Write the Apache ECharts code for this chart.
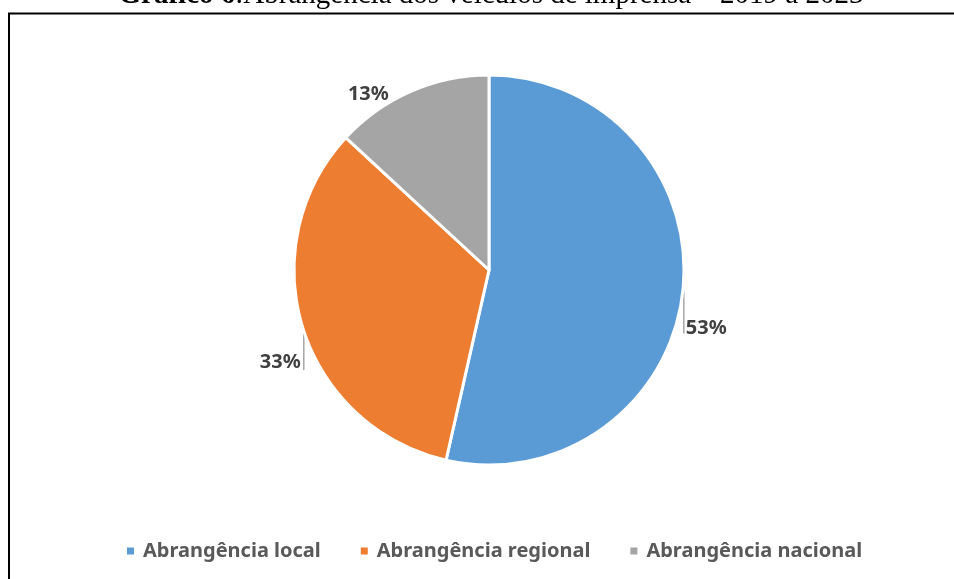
<!DOCTYPE html>
<html>
<head>
<meta charset="utf-8">
<script src="https://cdn.jsdelivr.net/npm/echarts@6/dist/echarts.min.js"></script>
<style>
  html, body { margin: 0; padding: 0; background: #fff; }
  #chart { width: 954px; height: 579px; }
</style>
</head>
<body>
<div id="chart"></div>
<script>
const categories = ['Abrangência local', 'Abrangência regional', 'Abrangência nacional'];
const shares = [53, 33, 13];
const colors = ['#5B9BD5', '#ED7D31', '#A5A5A5'];

const chart = echarts.init(document.getElementById('chart'));

// Excel-style "best fit" label placement: short vertical leader, label beside it
function placeLabel(params) {
  const p = params.labelLinePoints ? params.labelLinePoints[0] : null;
  if (!p) return {};
  const i = params.dataIndex;
  if (i === 0) {
    const yEnd = p[1] + 42;
    return {
      x: p[0] + 3, y: yEnd - 5, align: 'left', verticalAlign: 'middle',
      labelLinePoints: [[p[0] + 1, p[1]], [p[0] + 1, yEnd], [p[0] + 1, yEnd]]
    };
  }
  if (i === 1) {
    const yEnd = p[1] + 42;
    return {
      x: p[0] - 2, y: yEnd - 8, align: 'right', verticalAlign: 'middle',
      labelLinePoints: [[p[0] + 1, p[1]], [p[0] + 1, yEnd], [p[0] + 1, yEnd]]
    };
  }
  return {
    x: p[0] - 22, y: p[1] + 3, align: 'right', verticalAlign: 'middle',
    labelLinePoints: [p, p, p]
  };
}

const option = {
  animation: false,
  color: colors,
  title: {
    text: '{b|Gráfico 6}:Abrangência dos veículos de imprensa – 2019 a 2023',
    left: 486,
    textAlign: 'center',
    top: -24,
    textStyle: {
      fontFamily: 'Liberation Serif',
      fontSize: 29,
      fontWeight: 'normal',
      color: '#000',
      rich: {
        b: { fontFamily: 'Liberation Serif', fontSize: 29, fontWeight: 'bold', color: '#000' }
      }
    }
  },
  graphic: [
    { type: 'line', shape: { x1: 8, y1: 13.5, x2: 954, y2: 13.5 }, style: { stroke: '#000', lineWidth: 2 } },
    { type: 'line', shape: { x1: 9, y1: 13, x2: 9, y2: 579 }, style: { stroke: '#000', lineWidth: 2 } }
  ],
  legend: {
    bottom: 13,
    left: 120,
    itemWidth: 9,
    itemHeight: 9,
    itemGap: 38,
    icon: 'rect',
    textStyle: {
      fontFamily: 'Noto Sans',
      fontWeight: 'bold',
      fontSize: 20,
      color: '#595959',
      padding: [0, 0, 0, 3]
    }
  },
  series: [{
    type: 'pie',
    center: [489, 270],
    radius: [0, 195],
    startAngle: 90,
    clockwise: true,
    itemStyle: { borderColor: '#fff', borderWidth: 3 },
    label: {
      show: true,
      position: 'outside',
      formatter: p => p.value + '%',
      fontFamily: 'Noto Sans',
      fontWeight: 'bold',
      fontSize: 20,
      color: '#404040'
    },
    labelLine: {
      show: true,
      length: 6,
      length2: 0,
      lineStyle: { color: '#A6A6A6', width: 1.5 }
    },
    labelLayout: placeLabel,
    data: categories.map((name, i) => ({ name, value: shares[i] }))
  }]
};

chart.setOption(option);
</script>
</body>
</html>
